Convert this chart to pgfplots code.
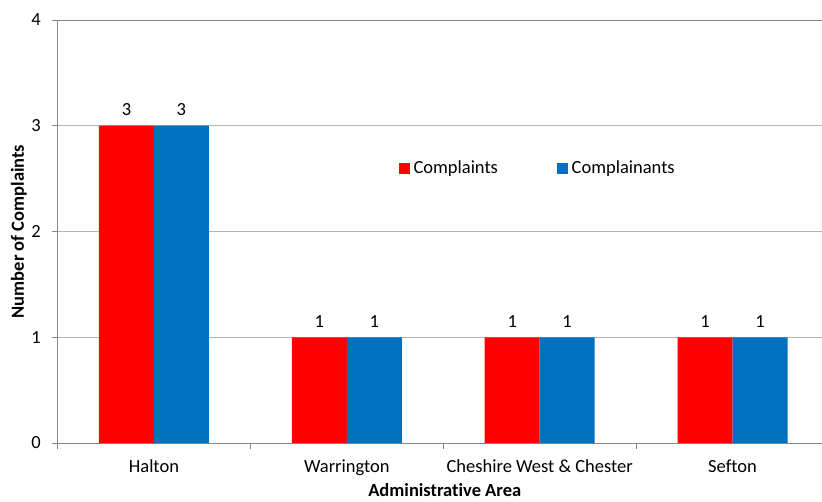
\documentclass[border=0pt]{standalone}
\usepackage{fontspec}
\setmainfont{Carlito}[Ligatures={NoCommon}]
\usepackage{pgfplots}
\pgfplotsset{compat=1.18}
\definecolor{cred}{RGB}{255,0,0}
\definecolor{cblue}{RGB}{0,112,192}
\definecolor{axgray}{RGB}{134,134,134}
\definecolor{grgray}{RGB}{180,180,180}
\pgfplotsset{
  /pgf/number format/assume math mode=true,
  /pgfplots/ybar legend/.style={/pgfplots/legend image code/.code={\fill[##1,draw=none] (0pt,-5.5pt) rectangle (11pt,5.5pt);}},
}
\begin{document}
\fontsize{18.5}{22}\selectfont
\begin{tikzpicture}
\begin{axis}[
  at={(57.5pt,58pt)}, anchor=south west,
  scale only axis, width=764.5pt, height=423pt,
  ybar=0pt, bar width=0.285,
  xmin=-0.5, xmax=3.4637, ymin=0, ymax=4,
  enlargelimits=false,
  axis x line*=bottom, axis y line*=left,
  axis line style={axgray, line width=0.9pt},
  ytick={0,1,2,3,4},
  ymajorgrids, grid style={grgray, line width=0.9pt},
  xtick={0,1,2,3},
  xticklabels={Halton, Warrington, Cheshire West \& Chester, Sefton},
  minor xtick={-0.5,0.5,1.5,2.5},
  major x tick style={draw=none},
  tick style={axgray, line width=0.9pt},
  tick align=outside,
  major tick length=5.5pt, minor tick length=6pt,
  yticklabel style={xshift=-5pt},
  xticklabel style={yshift=-4.5pt},
  xlabel={\bfseries Administrative Area},
  ylabel={\bfseries Number of Complaints},
  xlabel style={at={(axis description cs:0.5,0)}, anchor=base, yshift=-53.5pt, xshift=5pt},
  ylabel style={at={(axis description cs:0,0.5)}, anchor=base, xshift=0pt, yshift=33.7pt},
  legend columns=2,
  legend style={at={(axis description cs:0.4461,0.6482)}, anchor=west, draw=none, fill=none,
    inner sep=0pt, outer sep=0pt, nodes={inner sep=0pt, anchor=west},
    /tikz/every odd column/.style={column sep=4pt},
    /tikz/every even column/.style={column sep=58.7pt}},
  nodes near coords,
  nodes near coords style={text=black, yshift=3.5pt},
]
\addplot[fill=cred, draw=none] coordinates {(0,3) (1,1) (2,1) (3,1)};
\addplot[fill=cblue, draw=none] coordinates {(0,3) (1,1) (2,1) (3,1)};
\legend{Complaints, Complainants}
\draw[axgray, line width=0.9pt] (axis cs:-0.5,4) -- (axis cs:3.4637,4);
\end{axis}
\pgfresetboundingbox
\useasboundingbox (0,0) rectangle (822pt,501pt);
\end{tikzpicture}
\end{document}
